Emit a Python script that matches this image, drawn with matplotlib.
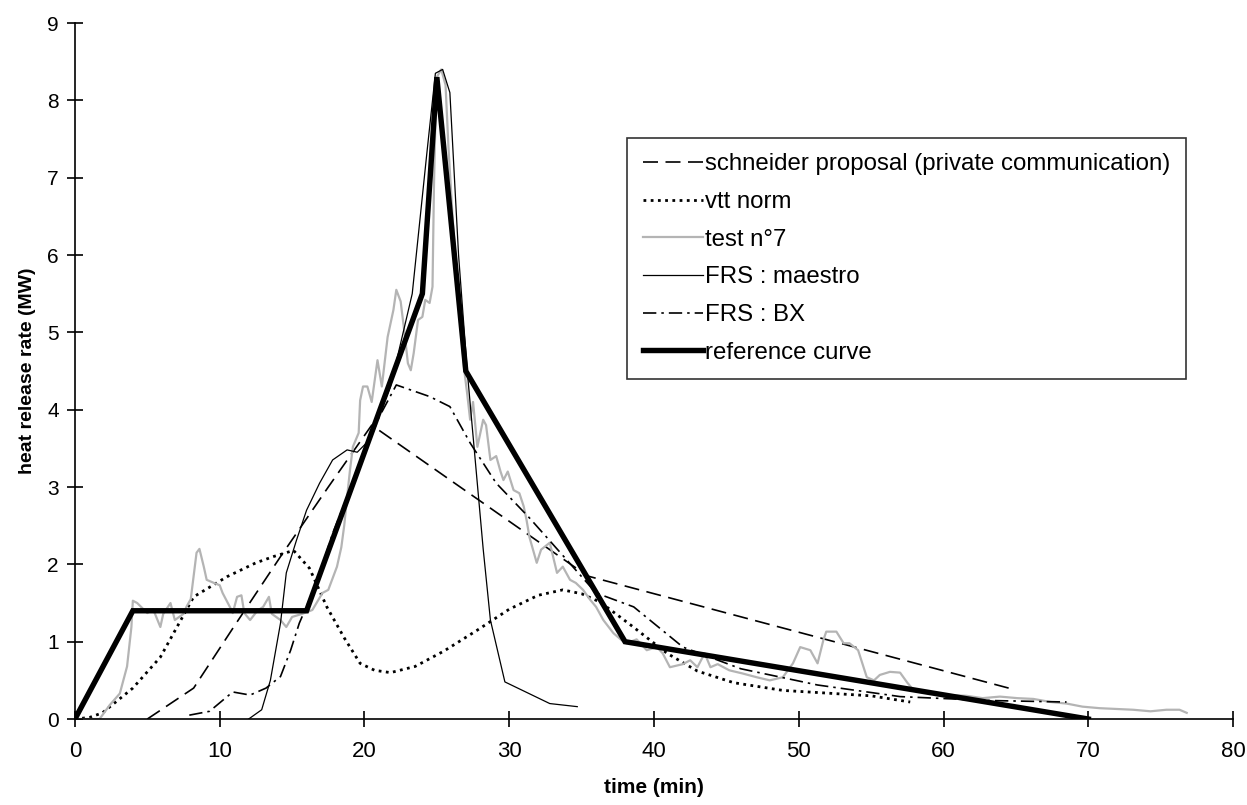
import matplotlib.pyplot as plt
import numpy as np

plt.rcParams["font.family"] = ["Liberation Sans", "DejaVu Sans"]

# ---------------------------
# Curves: time (min) / HRR (MW)
# ---------------------------
schneider_t = [5.0, 8.2, 11.0, 14.2, 17.5, 20.5, 35.4, 64.5]
schneider_q = [0.0, 0.4, 1.2, 2.1, 3.0, 3.8, 1.85, 0.4]

vtt_t = [0.0, 1.0, 1.9, 4.0, 5.9, 8.2, 10.5, 12.5, 13.7, 15.1, 16.2, 17.4,
         18.6, 19.7, 20.7, 21.8, 23.5, 25.5, 27.8, 30.0, 32.0, 33.7, 35.0,
         36.3, 38.5, 40.9, 43.0, 45.5, 48.9, 52.4, 55.0, 57.7]
vtt_q = [0.0, 0.02, 0.08, 0.4, 0.8, 1.58, 1.84, 2.02, 2.1, 2.18, 1.95, 1.45,
         1.05, 0.72, 0.63, 0.6, 0.68, 0.88, 1.15, 1.42, 1.6, 1.67, 1.62,
         1.51, 1.2, 0.85, 0.62, 0.47, 0.37, 0.33, 0.3, 0.22]

test_t = [0.0, 1.7, 2.4, 3.1, 3.6, 3.9, 4.0, 4.3, 5.0, 5.4, 5.9, 6.1, 6.6,
          6.9, 7.5, 7.7, 8.0, 8.4, 8.6, 8.9, 9.1, 9.6, 10.0, 10.2, 10.7,
          10.9, 11.2, 11.5, 11.7, 12.1, 12.6, 13.0, 13.4, 13.6, 14.2, 14.6,
          15.0, 15.7, 16.4, 17.1, 17.5, 18.1, 18.4, 18.6, 18.8, 19.0, 19.2,
          19.6, 19.7, 19.9, 20.2, 20.5, 20.9, 21.2, 21.6, 22.0, 22.2, 22.5,
          22.8, 23.0, 23.2, 23.4, 23.7, 24.0, 24.2, 24.5, 24.7, 24.8, 24.9,
          25.0, 25.3, 25.6, 25.8, 26.1, 26.6, 26.9, 27.1, 27.3, 27.5, 27.8,
          28.2, 28.4, 28.7, 29.1, 29.4, 29.6, 29.9, 30.3, 30.7, 31.0, 31.2,
          31.4, 31.9, 32.2, 32.8, 33.3, 33.7, 34.2, 34.6, 35.1, 35.6, 36.0,
          36.5, 37.2, 37.7, 38.1, 38.8, 39.5, 40.2, 40.6, 41.1, 42.0, 42.5,
          43.0, 43.5, 43.9, 44.4, 45.2, 46.1, 47.1, 48.0, 48.9, 49.6, 50.1,
          50.8, 51.3, 51.7, 51.9, 52.6, 53.1, 53.5, 54.1, 54.7, 55.2, 55.6,
          56.3, 57.0, 57.5, 57.9, 59.3, 60.4, 61.6, 62.7, 63.9, 65.1, 66.2,
          67.4, 68.5, 69.6, 70.8, 71.9, 73.1, 74.3, 75.4, 76.3, 76.8]
test_q = [0.0, 0.0, 0.18, 0.33, 0.68, 1.19, 1.53, 1.5, 1.37, 1.42, 1.19,
          1.36, 1.5, 1.28, 1.36, 1.45, 1.55, 2.15, 2.2, 1.97, 1.8, 1.76,
          1.73, 1.63, 1.45, 1.37, 1.58, 1.6, 1.37, 1.28, 1.4, 1.45, 1.58,
          1.36, 1.28, 1.19, 1.32, 1.36, 1.41, 1.63, 1.67, 1.97, 2.22, 2.5,
          2.87, 3.22, 3.52, 3.7, 4.12, 4.3, 4.3, 4.1, 4.64, 4.3, 4.94, 5.29,
          5.55, 5.4, 4.94, 4.6, 4.51, 4.73, 5.16, 5.2, 5.42, 5.38, 5.59,
          6.88, 7.75, 8.3, 8.4, 8.2, 7.4, 6.45, 5.16, 4.5, 4.2, 3.87, 4.1,
          3.52, 3.87, 3.8, 3.35, 3.4, 3.2, 3.09, 3.2, 2.96, 2.92, 2.75, 2.57,
          2.35, 2.02, 2.19, 2.28, 1.89, 1.97, 1.8, 1.76, 1.67, 1.54, 1.45,
          1.28, 1.11, 1.03, 0.98, 1.03, 0.89, 0.93, 0.85, 0.67, 0.71, 0.76,
          0.67, 0.85, 0.67, 0.71, 0.63, 0.59, 0.54, 0.5, 0.54, 0.72, 0.93,
          0.89, 0.72, 1.02, 1.13, 1.13, 0.98, 0.98, 0.89, 0.54, 0.5, 0.57,
          0.61, 0.6, 0.47, 0.38, 0.33, 0.31, 0.3, 0.27, 0.29, 0.27, 0.26,
          0.22, 0.2, 0.16, 0.14, 0.13, 0.12, 0.1, 0.12, 0.12, 0.08]

maestro_t = [12.0, 12.9, 13.5, 14.2, 14.6, 15.3, 16.0, 16.9, 17.8, 18.8,
             19.5, 20.3, 21.8, 23.3, 24.3, 24.9, 25.4, 25.9, 26.5, 27.1,
             28.2, 28.7, 29.7, 32.8, 34.7]
maestro_q = [0.0, 0.12, 0.5, 1.24, 1.89, 2.31, 2.7, 3.05, 3.35, 3.48,
             3.45, 3.6, 4.3, 5.5, 7.3, 8.35, 8.4, 8.1, 6.0, 4.5,
             2.2, 1.28, 0.48, 0.2, 0.16]

bx_t = [7.9, 9.3, 10.9, 12.1, 13.2, 14.2, 14.9, 15.5, 16.7, 17.8, 19.5,
        21.0, 22.2, 24.5, 25.9, 27.3, 29.1, 31.4, 33.3, 36.0, 38.6, 42.0,
        46.0, 51.3, 57.0, 63.0, 68.5]
bx_q = [0.05, 0.1, 0.35, 0.31, 0.4, 0.55, 0.89, 1.24, 1.76, 2.4, 3.2,
        3.9, 4.32, 4.17, 4.04, 3.57, 3.05, 2.6, 2.2, 1.63, 1.45, 0.93,
        0.65, 0.44, 0.29, 0.24, 0.22]

ref_t = [0, 4, 16, 24, 25, 27, 38, 70]
ref_q = [0.0, 1.4, 1.4, 5.5, 8.3, 4.5, 1.0, 0.0]

# ---------------------------
# Figure
# ---------------------------
fig = plt.figure(figsize=(12.47, 8.05), dpi=100)
ax = fig.add_axes([0.0601, 0.1068, 0.9287, 0.8646])

ax.plot(schneider_t, schneider_q, color="black", lw=1.2,
        linestyle=(0, (9, 4.5)), label="schneider proposal (private communication)")
ax.plot(vtt_t, vtt_q, color="black", lw=2.0,
        linestyle=(0, (1, 1.6)), label="vtt norm")
ax.plot(test_t, test_q, color="#b4b4b4", lw=1.6, label="test n°7")
ax.plot(maestro_t, maestro_q, color="black", lw=0.9, label="FRS : maestro")
ax.plot(bx_t, bx_q, color="black", lw=1.2,
        linestyle=(0, (8, 3, 1.5, 3)), label="FRS : BX")
ax.plot(ref_t, ref_q, color="black", lw=3.9, solid_joinstyle="miter",
        label="reference curve")

ax.set_xlim(0, 80)
ax.set_ylim(0, 9)
ax.set_xticks(np.arange(0, 81, 10))
ax.set_yticks(np.arange(0, 10, 1))
ax.spines["top"].set_visible(False)
ax.spines["right"].set_visible(False)
ax.spines["left"].set_linewidth(1.2)
ax.spines["bottom"].set_linewidth(1.2)
ax.tick_params(direction="inout", length=11, width=1.2, labelsize=15)
ax.tick_params(axis="x", pad=10, labelsize=16)
ax.tick_params(axis="y", pad=6)

ax.set_xlabel("time (min)", fontsize=15, fontweight="bold", labelpad=12)
ax.set_ylabel("heat release rate (MW)", fontsize=14, fontweight="bold", labelpad=8)

leg = ax.legend(loc="upper left", bbox_to_anchor=(0.477, 0.835), fontsize=17.3,
                frameon=True, fancybox=False, edgecolor="black",
                handlelength=2.5, handletextpad=0.08, labelspacing=0.65,
                borderpad=0.65, borderaxespad=0)
leg.get_frame().set_linewidth(1.2)

fig.savefig("out.png", dpi=100)
